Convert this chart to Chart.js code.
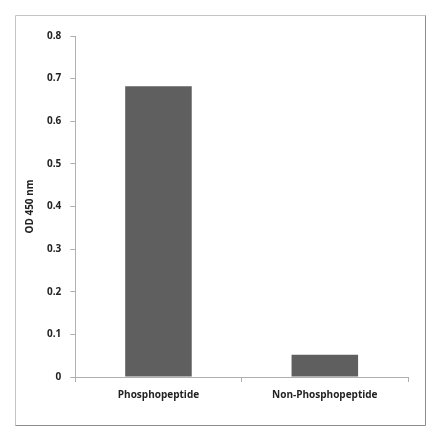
<!DOCTYPE html>
<html>
<head>
<meta charset="utf-8">
<script src="https://cdn.jsdelivr.net/npm/chart.js@4"></script>
<style>
  html, body { margin: 0; padding: 0; background: #fff; }
  #wrap { width: 440px; height: 441px; position: relative; }
</style>
</head>
<body>
<div id="wrap"><canvas id="odChart"></canvas></div>
<script>
// Values
const categories = ['Phosphopeptide', 'Non-Phosphopeptide'];
const odValues = [0.682, 0.052];
const yTicks = [0, 0.1, 0.2, 0.3, 0.4, 0.5, 0.6, 0.7, 0.8];

const tickFont = { family: 'Open Sans', size: 10, weight: 'bold' };

// Outer frame like the exported figure (light top/left, darker right/bottom)
const framePlugin = {
    id: 'frame',
    afterDraw(chart) {
        const c = chart.ctx;
        c.save();
        c.lineWidth = 1;
        c.strokeStyle = '#c4c4c4';
        c.beginPath();
        c.moveTo(15.5, 425.5); c.lineTo(15.5, 15.5); c.lineTo(425.5, 15.5);
        c.stroke();
        c.strokeStyle = '#8c8c8c';
        c.beginPath();
        c.moveTo(425.5, 15.5); c.lineTo(425.5, 425.5); c.lineTo(15.5, 425.5);
        c.stroke();
        c.restore();
    }
};

const ctx = document.getElementById('odChart').getContext('2d');

const chart = new Chart(ctx, {
    type: 'bar',
    data: {
        labels: categories,
        datasets: [{
            label: 'OD 450 nm',
            data: odValues,
            backgroundColor: '#5f5f5f',
            borderWidth: 0,
            barPercentage: 0.4,
            categoryPercentage: 1.0
        }]
    },
    options: {
        responsive: true,
        maintainAspectRatio: false,
        animation: false,
        layout: {
            padding: { left: 24, right: 32, top: 36, bottom: 33 }
        },
        plugins: {
            legend: { display: false },
            title: { display: false },
            tooltip: { enabled: false }
        },
        scales: {
            y: {
                min: 0,
                max: 0.8,
                afterBuildTicks: axis => {
                    axis.ticks = yTicks.map(v => ({ value: v }));
                },
                ticks: {
                    color: '#222',
                    font: tickFont,
                    padding: 9,
                    callback: v => (v === 0 ? '0' : v.toFixed(1))
                },
                grid: {
                    drawOnChartArea: false,
                    drawTicks: true,
                    tickLength: 5,
                    color: '#b0b0b0'
                },
                border: { color: '#b0b0b0' },
                title: {
                    display: true,
                    text: 'OD 450 nm',
                    color: '#222',
                    font: tickFont,
                    padding: { top: 0, bottom: 2 }
                }
            },
            x: {
                ticks: {
                    color: '#222',
                    font: tickFont,
                    padding: 7
                },
                grid: {
                    offset: true,
                    drawOnChartArea: false,
                    drawTicks: true,
                    tickLength: 5,
                    color: '#b0b0b0'
                },
                border: { color: '#b0b0b0' }
            }
        }
    },
    plugins: [framePlugin]
});
</script>
</body>
</html>
